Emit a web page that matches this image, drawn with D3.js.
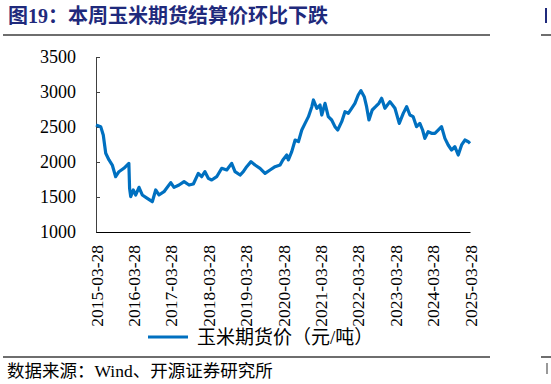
<!DOCTYPE html>
<html>
<head>
<meta charset="utf-8">
<script src="https://cdn.jsdelivr.net/npm/d3@7"></script>
<style>
  body { margin: 0; background: #fff; }
  svg { display: block; }
</style>
</head>
<body>
<script>
var width  = 551;
var height = 384;

// corn futures settlement price
var dates = [
  '2015-03-28','2015-05-13','2015-06-07','2015-07-01','2015-08-02','2015-09-03','2015-10-06','2015-11-07','2015-12-25',
  '2016-01-26','2016-02-12','2016-02-19','2016-03-01','2016-03-26','2016-04-19','2016-05-21','2016-06-22','2016-08-10',
  '2016-09-28','2016-10-31','2016-12-02','2017-01-20','2017-03-27','2017-04-28','2017-06-16','2017-08-04','2017-09-22',
  '2017-11-03','2017-12-21','2018-01-23','2018-02-24','2018-03-29','2018-05-01','2018-06-19','2018-08-07','2018-09-25',
  '2018-11-12','2018-12-15','2019-02-02','2019-03-06','2019-04-08','2019-05-20','2019-06-28','2019-08-16','2019-10-04',
  '2019-11-22','2020-01-10','2020-02-28','2020-03-26','2020-05-03','2020-05-19','2020-06-21','2020-07-24','2020-08-25',
  '2020-09-27','2020-10-29','2020-12-01','2021-01-03','2021-01-19','2021-02-21','2021-03-24','2021-04-10','2021-05-12',
  '2021-06-13','2021-07-16','2021-08-17','2021-09-13','2021-10-22','2021-11-23','2021-12-25','2022-01-27','2022-02-28',
  '2022-04-01','2022-04-28','2022-05-30','2022-06-22','2022-07-15','2022-08-16','2022-09-18','2022-10-20','2022-11-16',
  '2022-12-18','2023-02-05','2023-03-26','2023-05-07','2023-06-15','2023-07-18','2023-08-19','2023-09-20','2023-10-23',
  '2023-11-24','2023-12-21','2024-01-12','2024-02-13','2024-03-17','2024-04-19','2024-05-21','2024-06-23','2024-07-26',
  '2024-08-27','2024-09-29','2024-10-31','2024-12-03','2025-01-05','2025-02-06','2025-03-11','2025-03-28'
];

var prices = [
  2530, 2505, 2386, 2124, 2029, 1957, 1790, 1861, 1910,
  1957, 1981, 1624, 1505, 1600, 1529, 1638, 1529, 1481,
  1433, 1600, 1529, 1576, 1705, 1638, 1671, 1719, 1671,
  1686, 1838, 1790, 1862, 1767, 1743, 1790, 1910, 1886,
  1981, 1862, 1814, 1862, 1933, 2005, 1957, 1910, 1838,
  1886, 1933, 1957, 2029, 2100, 2029, 2148, 2314, 2290,
  2457, 2552, 2648, 2790, 2886, 2767, 2814, 2671, 2838,
  2648, 2600, 2505, 2457, 2576, 2719, 2695, 2767, 2838,
  2957, 3019, 2933, 2790, 2600, 2743, 2790, 2838, 2910,
  2767, 2862, 2767, 2552, 2695, 2790, 2671, 2648, 2505,
  2552, 2457, 2338, 2433, 2410, 2410, 2457, 2505, 2338,
  2243, 2171, 2219, 2100, 2243, 2314, 2290, 2267
];

var xTicks = ['2015-03-28','2016-03-28','2017-03-28','2018-03-28','2019-03-28','2020-03-28',
              '2021-03-28','2022-03-28','2023-03-28','2024-03-28','2025-03-28'];
var yTicks = [1000, 1500, 2000, 2500, 3000, 3500];

var title      = '图19：本周玉米期货结算价环比下跌';
var seriesName = '玉米期货价（元/吨）';
var source     = '数据来源：Wind、开源证券研究所';

var parse = d3.timeParse('%Y-%m-%d');
var data  = dates.map(function(d, i){ return { date: parse(d), value: prices[i] }; });

var serif = '"Liberation Serif", "Times New Roman", serif';
var mixed = '"Liberation Serif", "Noto Sans CJK SC", serif';
var blue  = '#0070c0';
var navy  = '#1f2a7c';

var svg = d3.select('body')
            .append('svg')
            .attr('width', width)
            .attr('height', height);

// title and rules
svg.append('text')
   .attr('x', 8).attr('y', 23)
   .attr('font-family', mixed).attr('font-weight', 'bold')
   .attr('font-size', '20px').attr('fill', navy)
   .text(title);

// edge of the neighbouring panel, clipped by the page
svg.append('rect')
   .attr('x', 545).attr('y', 8).attr('width', 2).attr('height', 15)
   .attr('fill', navy);
svg.append('rect')
   .attr('x', 546).attr('y', 363).attr('width', 2).attr('height', 11)
   .attr('fill', '#999');

[[3, 490], [541, 551]].forEach(function(s){
  svg.append('line').attr('x1', s[0]).attr('x2', s[1]).attr('y1', 35).attr('y2', 35)
     .attr('stroke', '#6e6e6e').attr('stroke-width', 2);
  svg.append('line').attr('x1', s[0]).attr('x2', s[1]).attr('y1', 357).attr('y2', 357)
     .attr('stroke', '#6e6e6e').attr('stroke-width', 2);
});

// scales
var x = d3.scaleTime()
          .domain([parse(xTicks[0]), parse(xTicks[xTicks.length - 1])])
          .range([96, 470]);
var y = d3.scaleLinear()
          .domain([1000, 3500])
          .range([232, 57]);

// y axis
var yAxis = svg.append('g')
               .attr('transform', 'translate(96,0)')
               .call(d3.axisRight(y).tickValues(yTicks).tickSize(4).tickFormat(d3.format('d')));
yAxis.select('.domain').attr('stroke', '#404040');
yAxis.selectAll('.tick line').attr('stroke', '#404040');
yAxis.selectAll('.tick text')
     .attr('x', -20).attr('text-anchor', 'end')
     .attr('font-family', serif).attr('font-size', '18px').attr('fill', '#000');

// x axis
var xAxis = svg.append('g')
               .attr('transform', 'translate(0,232)')
               .call(d3.axisBottom(x).tickValues(xTicks.map(parse)).tickSize(0)
                       .tickFormat(d3.timeFormat('%Y-%m-%d')));
xAxis.select('.domain').attr('stroke', '#000');
xAxis.selectAll('.tick text')
     .attr('transform', 'rotate(-90)')
     .attr('text-anchor', 'end')
     .attr('x', -13).attr('y', 0).attr('dy', '0.35em')
     .attr('font-family', serif).attr('font-size', '17.5px').attr('fill', '#000');

// series
var line = d3.line()
             .x(function(d){ return x(d.date); })
             .y(function(d){ return y(d.value); });

svg.append('path')
   .datum(data)
   .attr('d', line)
   .attr('fill', 'none')
   .attr('stroke', blue)
   .attr('stroke-width', 3.2)
   .attr('stroke-linejoin', 'round');

// legend
svg.append('line')
   .attr('x1', 148).attr('x2', 188).attr('y1', 337).attr('y2', 337)
   .attr('stroke', blue).attr('stroke-width', 3);
svg.append('text')
   .attr('x', 197).attr('y', 344)
   .attr('font-family', mixed).attr('font-size', '19px').attr('fill', '#000')
   .text(seriesName);

// source
svg.append('text')
   .attr('x', 7).attr('y', 377)
   .attr('font-family', mixed).attr('font-size', '17.5px').attr('fill', '#000')
   .text(source);
</script>
</body>
</html>
